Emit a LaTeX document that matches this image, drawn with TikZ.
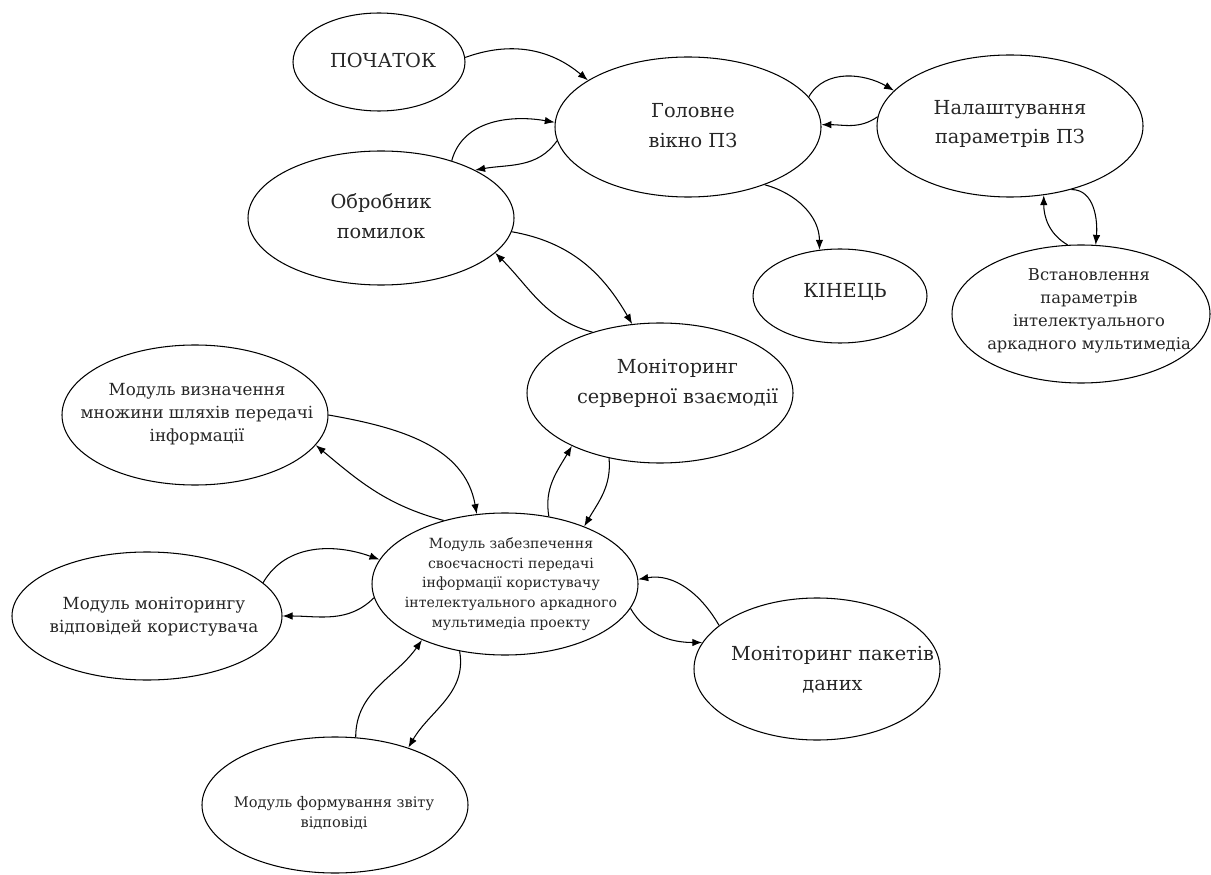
\documentclass[tikz,border=0pt]{standalone}
\usepackage{fontspec}
\setmainfont{DejaVu Serif}
\usepackage{xcolor}
\usepackage{tikz}
\usetikzlibrary{arrows.meta, shapes.geometric}

\begin{document}
\begin{tikzpicture}[->,
				>={Latex[length=2mm, width=1.5mm]},
				line width=0.6pt,
				blob/.style={draw, ellipse, inner sep=0pt, ->, line width=0.6pt},
				big/.style={align=center, text=black!85, font=\fontsize{11}{17}\selectfont},
				mid/.style={align=center, text=black!85, font=\fontsize{9.5}{13}\selectfont},
				small/.style={align=center, text=black!85, font=\fontsize{8}{11.3}\selectfont}]
				\useasboundingbox (0,0) rectangle (24.22,-17.5);
				% ellipses
				\node at (7.58,-1.24) (start) [blob, minimum width=3.44cm, minimum height=1.96cm] {};
				\node at (13.76,-2.54) (main) [blob, minimum width=5.32cm, minimum height=2.8cm] {};
				\node at (20.2,-2.52) (settings) [blob, minimum width=5.32cm, minimum height=2.84cm] {};
				\node at (7.62,-4.36) (errors) [blob, minimum width=5.32cm, minimum height=2.68cm] {};
				\node at (16.8,-5.92) (end) [blob, minimum width=3.48cm, minimum height=1.88cm] {};
				\node at (21.62,-6.28) (setparams) [blob, minimum width=5.16cm, minimum height=2.76cm] {};
				\node at (13.2,-7.86) (server) [blob, minimum width=5.32cm, minimum height=2.8cm] {};
				\node at (3.9,-8.3) (paths) [blob, minimum width=5.32cm, minimum height=2.8cm] {};
				\node at (10.1,-11.68) (core) [blob, minimum width=5.32cm, minimum height=2.84cm] {};
				\node at (2.94,-12.32) (answers) [blob, minimum width=5.4cm, minimum height=2.56cm] {};
				\node at (16.34,-13.38) (packets) [blob, minimum width=4.92cm, minimum height=2.84cm] {};
				\node at (6.7,-16.1) (report) [blob, minimum width=5.32cm, minimum height=2.72cm] {};
				% texts
				\node at (7.66,-1.2) (start-t) [big] {ПОЧАТОК};
				\node at (13.86,-2.52) (main-t) [big] {Головне\\вікно ПЗ};
				\node at (20.2,-2.48) (settings-t) [big] {Налаштування\\параметрів ПЗ};
				\node at (7.62,-4.32) (errors-t) [big] {Обробник\\помилок};
				\node at (16.9,-5.84) (end-t) [big] {КІНЕЦЬ};
				\node at (21.78,-6.22) (setparams-t) [mid, font=\fontsize{9.3}{13}\selectfont] {Встановлення\\параметрів\\інтелектуального\\аркадного мультимедіа};
				\node at (13.55,-7.66) (server-t) [big] {Моніторинг\\серверної взаємодії};
				\node at (3.94,-8.28) (paths-t) [mid] {Модуль визначення\\множини шляхів передачі\\інформації};
				\node at (10.22,-11.68) (core-t) [small] {Модуль забезпечення\\своєчасності передачі\\інформації користувачу\\інтелектуального аркадного\\мультимедіа проекту};
				\node at (3.08,-12.33) (answers-t) [mid] {Модуль моніторингу\\відповідей користувача};
				\node at (16.65,-13.4) (packets-t) [big] {Моніторинг пакетів\\даних};
				\node at (6.68,-16.26) (report-t) [small, font=\fontsize{8.3}{11.5}\selectfont] {Модуль формування звіту\\відповіді};
				% connectors
				\draw (start.3) to [out=20,in=140] (main.155);
				\draw (errors.39) to [out=75,in=170] (main.178);
				\draw (main.186) to [out=235,in=10] (errors.27);
				\draw (main.14) to [out=60,in=150] (settings.163);
				\draw (settings.176) to [out=215,in=0] (main.1);
				\draw (main.-37) to [out=-15,in=90] (end.114);
				\draw (setparams.101) to [out=150,in=-90] (settings.-64);
				\draw (settings.-46) to [out=0,in=85] (setparams.78);
				\draw (errors.-6) to [out=-10,in=120] (server.112);
				\draw (server.138) to [out=165,in=-45] (errors.-17);
				\draw (core.57) to [out=100,in=-120] (server.211);
				\draw (server.232) to [out=-85,in=60] (core.36);
				\draw (paths.0) to [out=-10,in=100] (core.112);
				\draw (core.134) to [out=165,in=-40] (paths.-14);
				\draw (answers.16) to [out=60,in=160] (core.169);
				\draw (core.186) to [out=225,in=0] (answers.0);
				\draw (packets.156) to [out=120,in=10] (core.2);
				\draw (core.-11) to [out=-60,in=180] (packets.167);
				\draw (report.73) to [out=90,in=-125] (core.214);
				\draw (core.236) to [out=-80,in=60] (report.38);
			\end{tikzpicture}
\end{document}
